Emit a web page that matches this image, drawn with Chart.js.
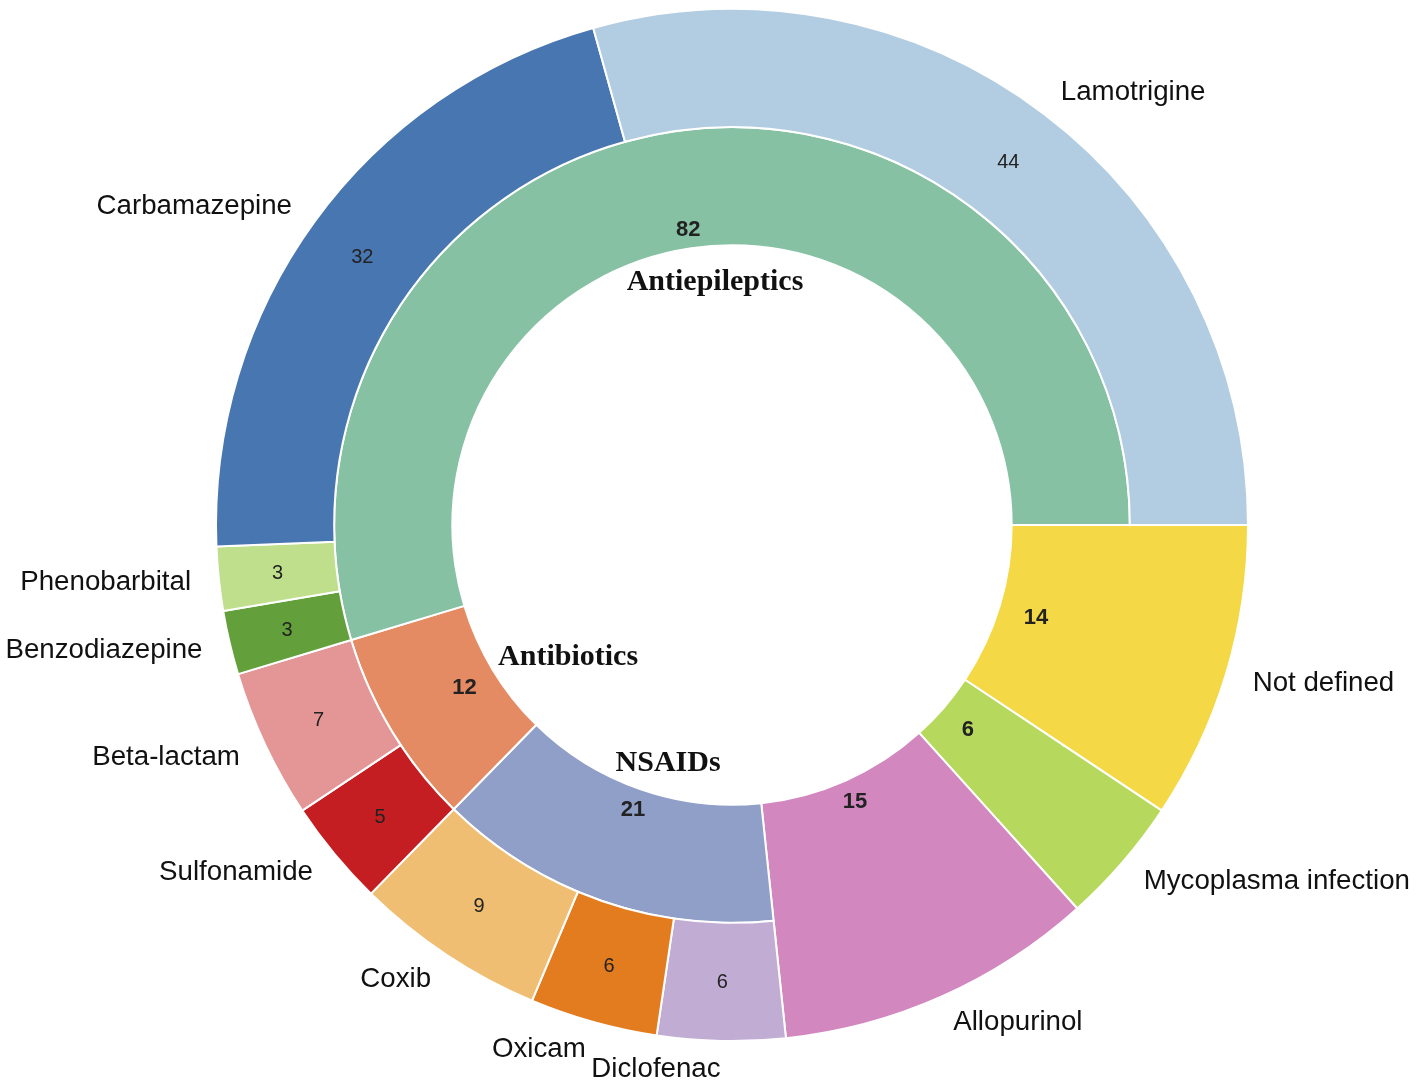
<!DOCTYPE html>
<html>
<head>
<meta charset="utf-8">
<script src="https://cdn.jsdelivr.net/npm/chart.js@4.4.1/dist/chart.umd.min.js"></script>
<style>
  html, body { margin: 0; padding: 0; background: #ffffff; }
  #wrap { width: 1417px; height: 1087px; position: relative; }
</style>
</head>
<body>
<div id="wrap"><canvas id="c" width="1417" height="1087"></canvas></div>
<script>
// ---- Data (listed counter-clockwise starting at 3 o'clock, as in the reference) ----
const outerLabels = ["Lamotrigine", "Carbamazepine", "Phenobarbital", "Benzodiazepine",
  "Beta-lactam", "Sulfonamide", "Coxib", "Oxicam", "Diclofenac",
  "Allopurinol", "Mycoplasma infection", "Not defined"];
const outerValues = [44, 32, 3, 3, 7, 5, 9, 6, 6, 15, 6, 14];
const outerColors = ["#b2cde2", "#4876b0", "#bfdf8c", "#63a03c",
  "#e49696", "#c41e22", "#efbe73", "#e37c1e", "#c1acd4",
  "#d287bf", "#b6d95d", "#f4d846"];

const innerLabels = ["Antiepileptics", "Antibiotics", "NSAIDs", "Allopurinol", "Mycoplasma infection", "Not defined"];
const innerValues = [82, 12, 21, 15, 6, 14];
const innerColors = ["#86c1a3", "#e48b64", "#909fc8", "#d287bf", "#b6d95d", "#f4d846"];

// group names written inside the hole (only for the first three groups)
const groupTitles = ["Antiepileptics", "Antibiotics", "NSAIDs"];

// ---- text placement style ----
// group titles: angle offset (deg, CCW) from arc middle, radius as fraction of hole radius
const groupTitleStyle = [
  { dAngle: -4.4, rFrac: 0.872 },
  { dAngle: 7.4, rFrac: 0.75 },
  { dAngle: 4.1, rFrac: 0.877 }
];
// inner value labels: radial position as fraction of the inner ring width
const innerValuePos = [0.17, 0.28, 0.18, 0.19, 0.27, 0.32];

const rev = a => a.slice().reverse();
const merged = name => innerLabels.indexOf(name) >= 0; // wedge spans both rings

const labelPlugin = {
  id: 'sunburstLabels',
  afterDatasetsDraw(chart) {
    const ctx = chart.ctx;
    const outerMeta = chart.getDatasetMeta(0);
    const innerMeta = chart.getDatasetMeta(1);
    const nO = outerValues.length, nI = innerValues.length;
    ctx.save();
    // join rings for single-member groups (hide the ring boundary)
    innerMeta.data.forEach((arc, i) => {
      const k = nI - 1 - i;
      if (outerLabels.indexOf(innerLabels[k]) < 0) return;
      const p = arc.getProps(['x', 'y', 'startAngle', 'endAngle', 'innerRadius', 'outerRadius'], true);
      const d = 1.3 / p.outerRadius;
      ctx.beginPath();
      ctx.arc(p.x, p.y, p.outerRadius, p.startAngle + d, p.endAngle - d);
      ctx.lineWidth = 6;
      ctx.lineCap = 'butt';
      ctx.strokeStyle = innerColors[k];
      ctx.stroke();
    });
    ctx.textBaseline = 'middle';
    // outer ring
    outerMeta.data.forEach((arc, i) => {
      const k = nO - 1 - i; // original index
      const p = arc.getProps(['x', 'y', 'startAngle', 'endAngle', 'innerRadius', 'outerRadius'], true);
      const mid = (p.startAngle + p.endAngle) / 2;
      if (!merged(outerLabels[k])) {
        const rv = (p.innerRadius + p.outerRadius) / 2;
        ctx.font = '20px "Liberation Sans", Arial, sans-serif';
        ctx.fillStyle = '#222222';
        ctx.textAlign = 'center';
        ctx.fillText(String(outerValues[k]), p.x + rv * Math.cos(mid), p.y + rv * Math.sin(mid) + 1);
      }
      const rl = p.outerRadius * 1.054;
      const lx = p.x + rl * Math.cos(mid);
      const ly = p.y + rl * Math.sin(mid);
      ctx.font = '27.7px "Liberation Sans", Arial, sans-serif';
      ctx.fillStyle = '#111111';
      ctx.textAlign = Math.cos(mid) >= 0 ? 'left' : 'right';
      ctx.fillText(outerLabels[k], lx, ly + 1);
    });
    // inner ring
    innerMeta.data.forEach((arc, i) => {
      const k = nI - 1 - i;
      const p = arc.getProps(['x', 'y', 'startAngle', 'endAngle', 'innerRadius', 'outerRadius'], true);
      const mid = (p.startAngle + p.endAngle) / 2;
      const rv = p.innerRadius + innerValuePos[k] * (p.outerRadius - p.innerRadius);
      ctx.font = 'bold 22px "Liberation Sans", Arial, sans-serif';
      ctx.fillStyle = '#222222';
      ctx.textAlign = 'center';
      ctx.fillText(String(innerValues[k]), p.x + rv * Math.cos(mid), p.y + rv * Math.sin(mid) + 1);
      if (k < groupTitles.length) {
        const st = groupTitleStyle[k];
        const a = mid - st.dAngle * Math.PI / 180;
        const rg = p.innerRadius * st.rFrac;
        ctx.font = 'bold 30px "Liberation Serif", "Times New Roman", serif';
        ctx.fillStyle = '#111111';
        ctx.fillText(groupTitles[k], p.x + rg * Math.cos(a), p.y + rg * Math.sin(a) + 1);
      }
    });
    ctx.restore();
  }
};

new Chart(document.getElementById('c'), {
  type: 'doughnut',
  data: {
    labels: rev(outerLabels),
    datasets: [
      { data: rev(outerValues), backgroundColor: rev(outerColors), borderColor: '#ffffff', borderWidth: 2 },
      { data: rev(innerValues), backgroundColor: rev(innerColors), borderColor: '#ffffff', borderWidth: 2 }
    ]
  },
  options: {
    responsive: false,
    animation: false,
    rotation: 90,
    cutout: '54.2%',
    layout: { padding: { left: 215, right: 168, top: 8, bottom: 45 } },
    plugins: { legend: { display: false }, tooltip: { enabled: false } }
  },
  plugins: [labelPlugin]
});
</script>
</body>
</html>
